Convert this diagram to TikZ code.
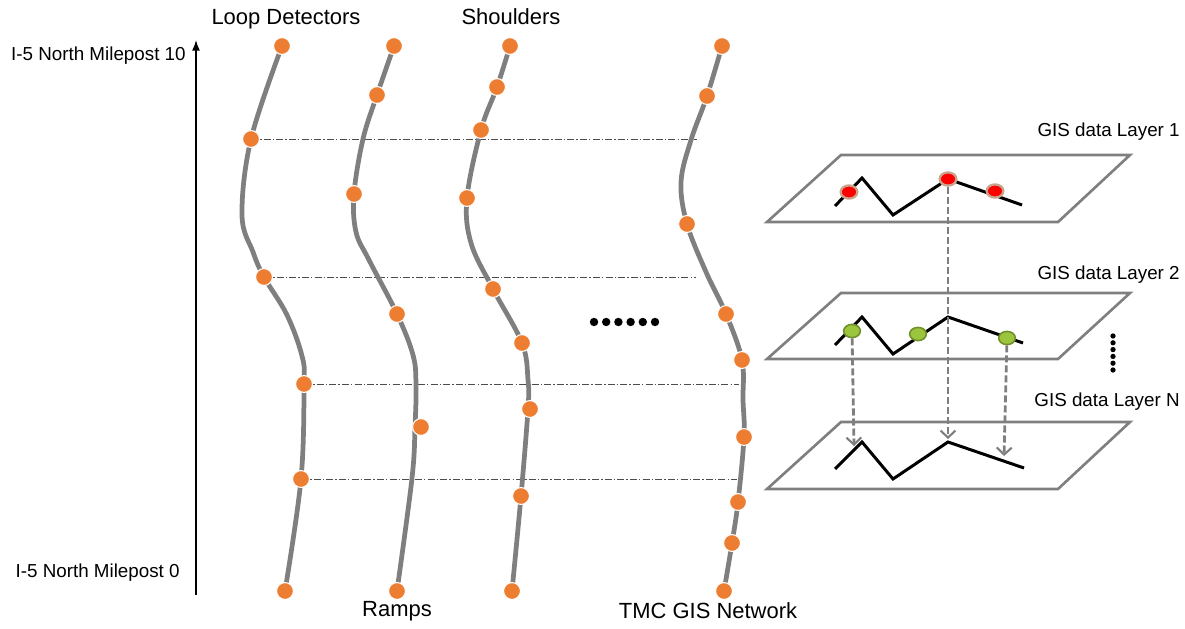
\documentclass[tikz,border=0pt]{standalone}
\usepackage{fontspec}
\setmainfont{Liberation Sans}
\usetikzlibrary{arrows.meta,shapes.geometric}
\definecolor{roadgray}{HTML}{7F7F7F}
\definecolor{dotorange}{HTML}{ED7D31}
\definecolor{ptred}{HTML}{FF0000}
\definecolor{ptring}{HTML}{C9A48C}
\definecolor{ptgreen}{HTML}{9BC53D}
\definecolor{ptgreenring}{HTML}{6F8F2A}
\begin{document}
\begin{tikzpicture}[x=0.02cm,y=-0.02cm,
  road/.style={draw=roadgray,line width=2.7pt,line cap=round},
  mp/.style={circle,fill=dotorange,draw=white,line width=0.6pt,inner sep=0pt,minimum size=9.6pt},
  guide/.style={draw=black!70,line width=0.45pt,dash pattern=on 4pt off 1.2pt on 0.8pt off 1.2pt},
  layer/.style={draw=roadgray,line width=1.5pt,line join=miter},
  route/.style={draw=black,line width=1.7pt,line join=miter},
  redpt/.style={ellipse,fill=ptred,draw=ptring,line width=1.3pt,inner sep=0pt,minimum width=9.5pt,minimum height=7.5pt},
  greenpt/.style={ellipse,fill=ptgreen,draw=ptgreenring,line width=0.9pt,inner sep=0pt,minimum width=9.5pt,minimum height=7.5pt},
  link/.style={draw=roadgray,line width=1.6pt,dash pattern=on 4pt off 1.7pt,-{Straight Barb[length=4pt,width=8.5pt,line width=1.2pt]}},
  biglbl/.style={font=\fontsize{12.5}{15}\selectfont,inner sep=0pt},
  sidelbl/.style={font=\fontsize{10.7}{13}\selectfont,inner sep=0pt},
  gislbl/.style={font=\fontsize{10.7}{13}\selectfont,inner sep=0pt,anchor=east},
  blackdot/.style={circle,fill=black,inner sep=0pt,minimum size=4.4pt}
]
\useasboundingbox (0,0) rectangle (1185,628);

% ---------- milepost axis ----------
\coordinate (axb) at (196,595);
\coordinate (axt) at (196,40);
\draw[line width=0.8pt,-{Latex[length=6pt,width=4.5pt]}] (axb) -- (axt);
\node[sidelbl,anchor=east] (mp10) at (186,56) {I-5 North Milepost 10};
\node[sidelbl,anchor=east] (mp0) at (180,573) {I-5 North Milepost 0};

% ---------- column labels ----------
\node[biglbl] (tLoop) at (286,19) {Loop Detectors};
\node[biglbl] (tShoulder) at (511,17) {Shoulders};
\node[biglbl] (tRamp) at (397,611) {Ramps};
\node[biglbl] (tTmc) at (708,611) {TMC GIS Network};

% ---------- curve points ----------
% loop detectors
\coordinate (A1) at (282,46);  \coordinate (A2) at (251,139);
\coordinate (A3) at (264,277); \coordinate (A4) at (304,384);
\coordinate (A5) at (301,479); \coordinate (A6) at (285,591);
% ramps
\coordinate (B1) at (394,46);  \coordinate (B2) at (377,95);
\coordinate (B3) at (354,194); \coordinate (B4) at (397,314);
\coordinate (B5) at (421,427); \coordinate (B6) at (397,591);
% shoulders
\coordinate (C1) at (510,46);  \coordinate (C2) at (497,87);
\coordinate (C3) at (481,130); \coordinate (C4) at (467,198);
\coordinate (C5) at (493,289); \coordinate (C6) at (522,343);
\coordinate (C7) at (530,409); \coordinate (C8) at (521,496);
\coordinate (C9) at (512,591);
% TMC network
\coordinate (D1) at (722,46);  \coordinate (D2) at (707,96);
\coordinate (D3) at (687,224); \coordinate (D4) at (726,314);
\coordinate (D5) at (742,360); \coordinate (D6) at (744,437);
\coordinate (D7) at (738,502); \coordinate (D8) at (732,543);
\coordinate (D9) at (724,591);

% ---------- cross-section guides ----------
\coordinate (g1) at (697,139);
\coordinate (g2) at (696,277);
\coordinate (g3) at (739,384);
\coordinate (g4) at (737,479);
\draw[guide] (A2) -- (g1);
\draw[guide] (A3) -- (g2);
\draw[guide] (A4) -- (g3);
\draw[guide] (A5) -- (g4);

% ---------- roads ----------
\draw[road] plot[smooth,tension=0.6] coordinates {(A1) (A2) (242,215) (253,252) (A3) (287,315) (302,356) (A4) (A5) (A6)};
\draw[road] plot[smooth,tension=0.6] coordinates {(B1) (B2) (363,139) (B3) (356,232) (369,260) (B4) (413,355) (416,385) (415,427) (412,478) (B6)};
\draw[road] plot[smooth,tension=0.6] coordinates {(C1) (C2) (C3) (C4) (471,243) (C5) (C6) (528,380) (528,409) (C8) (C9)};
\draw[road] plot[smooth,tension=0.6] coordinates {(D1) (D2) (691,140) (681,182) (D3) (706,272) (D4) (D5) (743,400) (D6) (D7) (D8) (D9)};

% ---------- detector markers ----------
\foreach \p in {A1,A2,A3,A4,A5,A6,B1,B2,B3,B4,B5,B6,C1,C2,C3,C4,C5,C6,C7,C8,C9,D1,D2,D3,D4,D5,D6,D7,D8,D9}
  \node[mp] (m\p) at (\p) {};

% ---------- horizontal ellipsis ----------
\foreach \i in {0,...,5}
  \node[blackdot,minimum size=4.8pt] (hd\i) at (594+12.2*\i,322) {};

% ---------- GIS layers ----------
\coordinate (P1a) at (841,155); \coordinate (P1b) at (1130,155);
\coordinate (P1c) at (1058,222); \coordinate (P1d) at (767,222);
\draw[layer] (P1a) -- (P1b) -- (P1c) -- (P1d) -- cycle;
\coordinate (P2a) at (841,293); \coordinate (P2b) at (1130,293);
\coordinate (P2c) at (1058,359); \coordinate (P2d) at (767,359);
\draw[layer] (P2a) -- (P2b) -- (P2c) -- (P2d) -- cycle;
\coordinate (P3a) at (841,422); \coordinate (P3b) at (1130,422);
\coordinate (P3c) at (1058,489); \coordinate (P3d) at (767,489);
\draw[layer] (P3a) -- (P3b) -- (P3c) -- (P3d) -- cycle;

\node[gislbl] (lay1) at (1180,132) {GIS data Layer 1};
\node[gislbl] (lay2) at (1180,275) {GIS data Layer 2};
\node[gislbl] (layN) at (1180,402) {GIS data Layer N};

% routes on each layer
\draw[route] (835,206) -- (862,178) -- (893,215) -- (948,179) -- (1022,205);
\draw[route] (835,345) -- (862,317) -- (893,354) -- (948,317) -- (1023,343);
\draw[route] (835,469) -- (862,442) -- (893,479) -- (948,442) -- (1024,468);

% vertical ellipsis between layers
\foreach \i in {0,...,5}
  \node[blackdot,minimum size=3pt] (vd\i) at (1113,336+6.8*\i) {};

% ---------- projections between layers ----------
\coordinate (t1) at (854,446);
\coordinate (t2) at (948,439);
\coordinate (t3) at (1004,456);

\node[greenpt] (q1) at (852,331) {};
\node[greenpt] (q2) at (918,334) {};
\node[greenpt] (q3) at (1007,338) {};

\node[redpt] (r1) at (849,192) {};
\node[redpt] (r2) at (948,179) {};
\node[redpt] (r3) at (995,191) {};

\draw[link] (r2) -- (t2);
\draw[link] (q1) -- (t1);
\draw[link] (q3) -- (t3);
\end{tikzpicture}
\end{document}
